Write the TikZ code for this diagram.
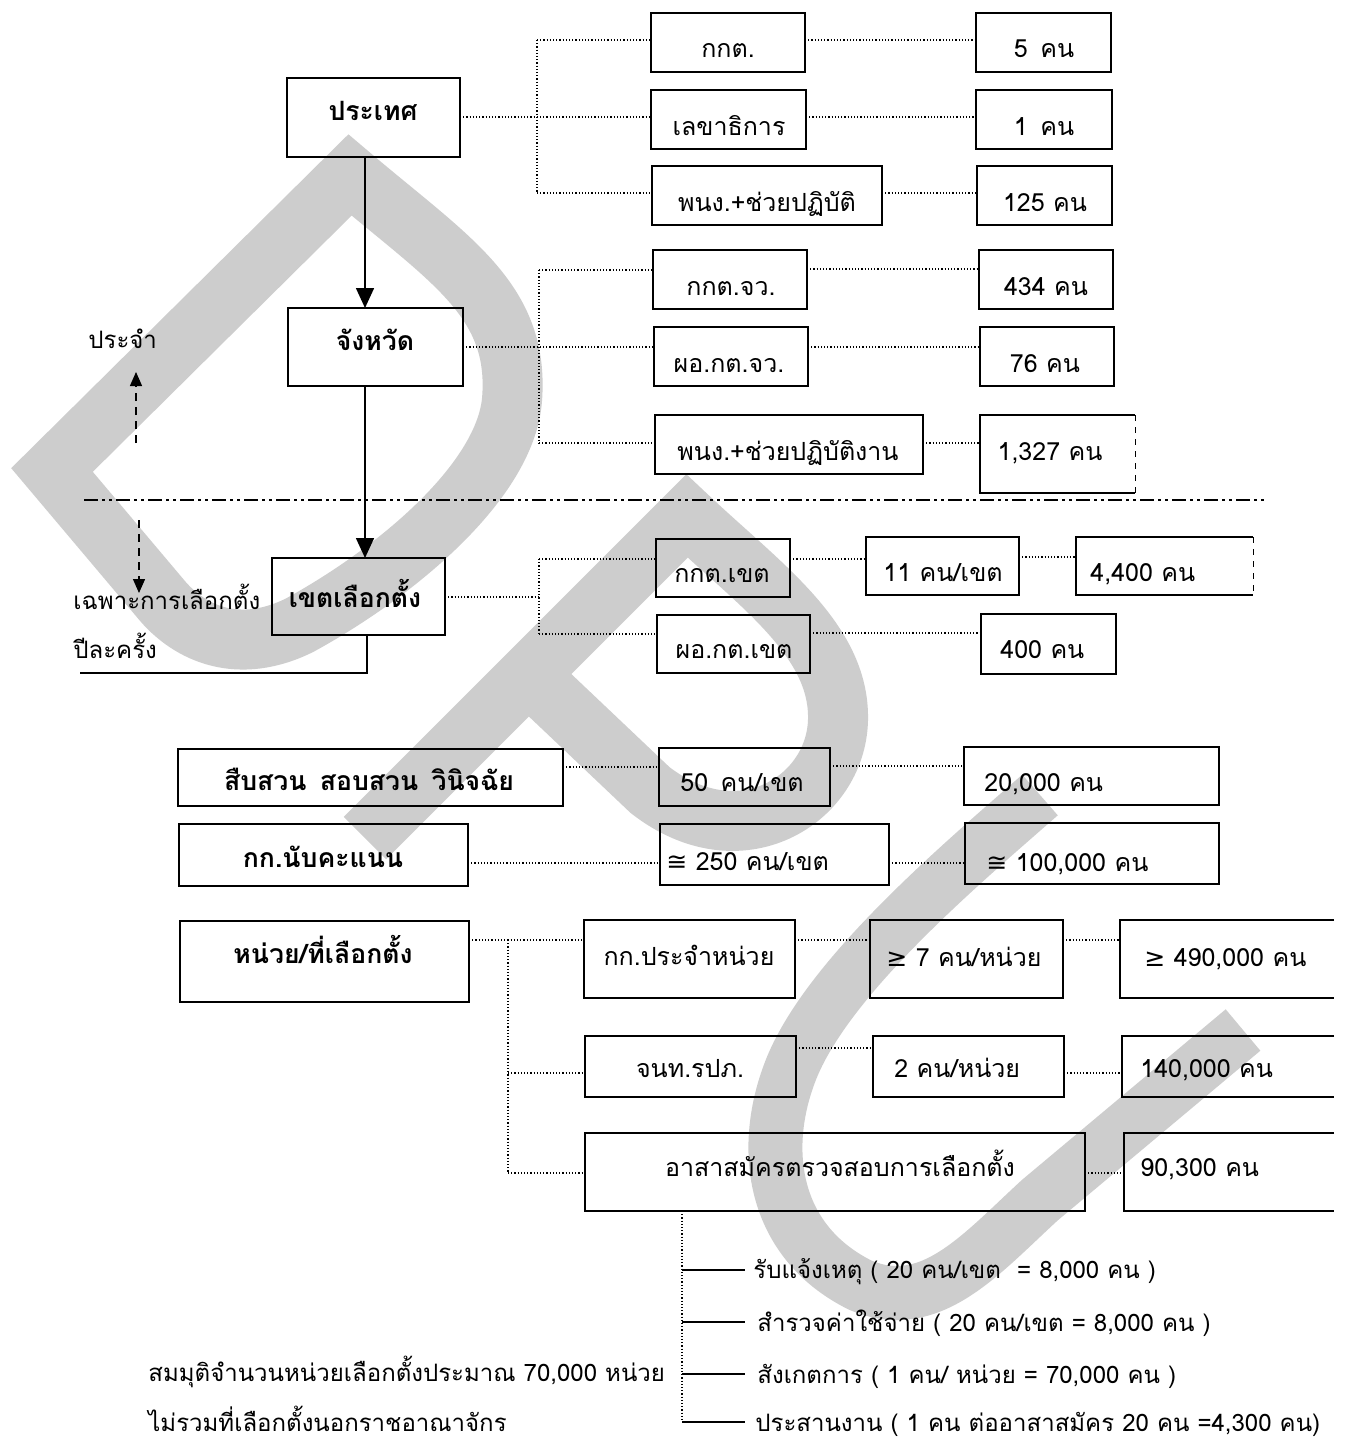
\documentclass[tikz,border=0pt]{standalone}
\usepackage{fontspec}
\setmainfont[Script=Thai]{Loma}
\newfontfamily\symf{DejaVu Sans}
\usetikzlibrary{arrows.meta,calc}
\definecolor{wm}{RGB}{205,205,205}
\tikzset{
  box/.style={draw, line width=1pt, rectangle, inner sep=0pt, outer sep=0pt},
  openbox/.style={rectangle, inner sep=0pt, outer sep=0pt},
  txt/.style={inner sep=0pt, font=\fontsize{12.5}{15}\selectfont},
  ftxt/.style={inner sep=0pt, font=\fontsize{12}{14}\selectfont},
  btxt/.style={inner sep=0pt, font=\fontsize{13.3}{16}\selectfont\bfseries},
  dotl/.style={densely dotted, line width=0.6pt},
  solidl/.style={line width=0.8pt},
  arr/.style={line width=0.8pt, -{Triangle[length=10pt,width=9pt]}},
  darr/.style={line width=0.7pt, dash pattern=on 4pt off 3pt, -{Triangle[length=7pt,width=6pt]}},
  wmark/.style={line width=30pt, draw=wm, line join=miter, miter limit=4},
  dashdot/.style={line width=1pt, dash pattern=on 7pt off 2pt on 1.5pt off 2pt on 1.5pt off 2pt},
  sides/.style={line width=1pt},
}
\newcommand\bx[6][box]{\node[#1, minimum width={(#4-#2)*0.5pt}, minimum height={(#5-#3)*0.5pt}] (#6) at ({(#2+#4)/2},{(#3+#5)/2}) {};}
\newcommand\tx[5][txt]{\node[#1, anchor=base] (#2) at (#3,#4) {#5};}
\newcommand\tw[5][txt]{\node[#1, anchor=base west] (#2) at (#3,#4) {#5};}
\newcommand\threesides[1]{\draw[sides] (#1.north east) -- (#1.north west) -- (#1.south west) -- (#1.south east);}
\begin{document}
\begin{tikzpicture}[x=0.5pt,y=-0.5pt]
\fill[white] (0,0) rectangle (1346,1439);
\useasboundingbox (0,0) rectangle (1346,1439);

% ---------- watermark ----------
\draw[wmark] (52,470) -- (350,175) .. controls (450,260) and (520,300) .. (512,400)
  .. controls (505,480) and (400,570) .. (300,625) .. controls (240,655) and (190,635) .. (160,598) -- cycle;
\draw[wmark] (365,838) -- (687,516) .. controls (760,585) and (840,640) .. (838,720)
  .. controls (836,800) and (740,860) .. (650,790) -- (515,662);
\draw[wmark, line width=27pt] (1040,795) .. controls (960,865) and (830,975) .. (792,1067)
  .. controls (760,1145) and (770,1240) .. (860,1285) .. controls (930,1315) and (980,1255) .. (1040,1200) -- (1243,1030);

% ---------- left column ----------
\bx{287}{78}{460}{157}{prathet}
\bx{288}{308}{463}{386}{changwat}
\bx{272}{558}{445}{635}{khet}
\tx[btxt]{tprathet}{373}{121}{ประเทศ}
\tx[btxt]{tchangwat}{375}{350}{จังหวัด}
\tx[btxt]{tkhet}{355}{607}{เขตเลือกตั้ง}

\draw[arr] (prathet.south -| 365,0) -- (changwat.north -| 365,0);
\draw[arr] (changwat.south -| 365,0) -- (khet.north -| 365,0);
\draw[solidl] (khet.south -| 367,0) -- (367,673) -- (80,673);

\draw[dashdot] (84,500) -- (1265,500);

\tw[ftxt]{tprajam}{88}{348}{ประจำ}
\tw[ftxt]{tchapo}{73}{609}{เฉพาะการเลือกตั้ง}
\tw[ftxt]{tpila}{73}{658}{ปีละครั้ง}
\coordinate (ua) at (136,443);
\coordinate (ub) at (136,372);
\draw[darr] (ua) -- (ub);
\coordinate (da) at (139,520);
\coordinate (db) at (139,593);
\draw[darr] (da) -- (db);

% ---------- group 1 ----------
\bx{651}{13}{805}{72}{kkt}
\bx{651}{90}{806}{149}{lekha}
\bx{652}{166}{882}{225}{pnk1}
\bx{976}{13}{1111}{72}{n5}
\bx{976}{90}{1112}{149}{n1}
\bx{977}{166}{1112}{225}{n125}
\tx{tkkt}{728}{58}{กกต.}
\tx{tlekha}{729}{136}{เลขาธิการ}
\tx{tpnk1}{767}{212}{พนง.+ช่วยปฏิบัติ}
\tx{tn5}{1044}{58}{5\enspace คน}
\tx{tn1}{1044}{136}{1\enspace คน}
\tx{tn125}{1045}{212}{125 คน}
\coordinate (b1t) at (537,40);
\coordinate (b1b) at (537,193);
\draw[dotl] (b1t) -- (b1b);
\draw[dotl] (prathet.east |- 0,117) -- (lekha.west |- 0,117);
\draw[dotl] (b1t) -- (kkt.west |- b1t);
\draw[dotl] (b1b) -- (pnk1.west |- b1b);
\draw[dotl] (kkt.east |- 0,40) -- (n5.west |- 0,40);
\draw[dotl] (lekha.east |- 0,117) -- (n1.west |- 0,117);
\draw[dotl] (pnk1.east |- 0,193) -- (n125.west |- 0,193);

% ---------- group 2 ----------
\bx{653}{250}{807}{309}{kktjw}
\bx{654}{327}{808}{386}{pokt}
\bx{655}{415}{923}{474}{pnk2}
\bx{979}{250}{1113}{309}{n434}
\bx{980}{327}{1114}{386}{n76}
\bx[openbox]{980}{415}{1135}{493}{n1327}
\threesides{n1327}
\draw[line width=0.4pt, dashed] (n1327.north east) -- (n1327.south east);
\tx{tkktjw}{731}{295}{กกต.จว.}
\tx{tpokt}{729}{372}{ผอ.กต.จว.}
\tx{tpnk2}{788}{460}{พนง.+ช่วยปฏิบัติงาน}
\tx{tn434}{1046}{295}{434 คน}
\tx{tn76}{1045}{372}{76 คน}
\tx{tn1327}{1050}{460}{1,327 คน}
\coordinate (b2t) at (539,270);
\coordinate (b2b) at (539,443);
\draw[dotl] (b2t) -- (b2b);
\draw[dotl] (changwat.east |- 0,347) -- (pokt.west |- 0,347);
\draw[dotl] (b2t) -- (kktjw.west |- b2t);
\draw[dotl] (b2b) -- (pnk2.west |- b2b);
\draw[dotl] (kktjw.east |- 0,269) -- (n434.west |- 0,269);
\draw[dotl] (pokt.east |- 0,347) -- (n76.west |- 0,347);
\draw[dotl] (pnk2.east |- 0,443) -- (n1327.west |- 0,443);

% ---------- group 3 ----------
\bx{656}{539}{790}{597}{kktkhet}
\bx{657}{615}{810}{673}{pokhet}
\bx{866}{537}{1019}{595}{n11}
\bx[openbox]{1076}{537}{1253}{595}{n4400}
\threesides{n4400}
\draw[line width=0.4pt, dashed] (n4400.north east) -- (n4400.south east);
\bx{981}{614}{1116}{674}{n400}
\tx{tkktkhet}{722}{582}{กกต.เขต}
\tx{tpokhet}{734}{658}{ผอ.กต.เขต}
\tx{tn11}{943}{581}{11 คน/เขต}
\tw{tn4400}{1090}{581}{4,400 คน}
\tw{tn400}{1000}{658}{400 คน}
\coordinate (b3t) at (539,559);
\coordinate (b3b) at (539,634);
\draw[dotl] (b3t) -- (b3b);
\draw[dotl] (khet.east |- 0,597) -- (b3t |- 0,597);
\draw[dotl] (b3t) -- (kktkhet.west |- b3t);
\draw[dotl] (b3b) -- (pokhet.west |- b3b);
\draw[dotl] (kktkhet.east |- 0,559) -- (n11.west |- 0,559);
\draw[dotl] (n11.east |- 0,557) -- (n4400.west |- 0,557);
\draw[dotl] (pokhet.east |- 0,633) -- (n400.west |- 0,633);

% ---------- group 4 ----------
\bx{178}{749}{563}{806}{suep}
\bx{659}{748}{830}{806}{n50}
\bx{964}{747}{1219}{805}{n20000}
\bx{179}{824}{468}{886}{kknab}
\bx{660}{824}{889}{885}{n250}
\bx{965}{823}{1219}{884}{n100k}
\tx[btxt]{tsuep}{369}{790}{สืบสวน\enspace สอบสวน\enspace วินิจฉัย}
\tw{tn50}{680}{791}{50\enspace คน/เขต}
\tw{tn20000}{984}{791}{20,000 คน}
\tx[btxt]{tkknab}{323}{867}{กก.นับคะแนน}
\tw{tn250}{666}{870}{{\symf ≅} 250 คน/เขต}
\tw{tn100k}{986}{871}{{\symf ≅} 100,000 คน}
\draw[dotl] (suep.east |- 0,767) -- (n50.west |- 0,767);
\draw[dotl] (n50.east |- 0,766) -- (n20000.west |- 0,766);
\draw[dotl] (kknab.east |- 0,863) -- (n250.west |- 0,863);
\draw[dotl] (n250.east |- 0,863) -- (n100k.west |- 0,863);

% ---------- group 5 ----------
\bx{180}{921}{469}{1002}{nuai}
\bx{584}{920}{795}{998}{kkpj}
\bx{870}{920}{1063}{998}{n7}
\bx[openbox]{1120}{920}{1334}{998}{n490}
\threesides{n490}
\bx{585}{1036}{796}{1097}{jnt}
\bx{873}{1036}{1064}{1097}{n2}
\bx[openbox]{1122}{1036}{1334}{1097}{n140}
\threesides{n140}
\bx{585}{1133}{1085}{1211}{asa}
\bx[openbox]{1124}{1133}{1334}{1211}{n90}
\threesides{n90}
\tx[btxt]{tnuai}{323}{963}{หน่วย/ที่เลือกตั้ง}
\tx{tkkpj}{689}{965}{กก.ประจำหน่วย}
\tx{tn7}{964}{966}{{\symf ≥} 7 คน/หน่วย}
\tw{tn490}{1144}{966}{{\symf ≥} 490,000 คน}
\tx{tjnt}{690}{1077}{จนท.รปภ.}
\tw{tn2}{894}{1077}{2 คน/หน่วย}
\tw{tn140}{1140}{1077}{140,000 คน}
\tx{tasa}{840}{1176}{อาสาสมัครตรวจสอบการเลือกตั้ง}
\tw{tn90}{1140}{1176}{90,300 คน}
\coordinate (b5t) at (508,940);
\coordinate (b5b) at (508,1173);
\draw[dotl] (nuai.east |- 0,940) -- (kkpj.west |- 0,940);
\draw[dotl] (b5t) -- (b5b);
\draw[dotl] (b5t |- 0,1073) -- (jnt.west |- 0,1073);
\draw[dotl] (b5b) -- (asa.west |- b5b);
\draw[dotl] (kkpj.east |- 0,940) -- (n7.west |- 0,940);
\draw[dotl] (n7.east |- 0,940) -- (n490.west |- 0,940);
\draw[dotl] (jnt.east |- 0,1048) -- (n2.west |- 0,1048);
\draw[dotl] (n2.east |- 0,1073) -- (n140.west |- 0,1073);
\draw[dotl] (asa.east |- 0,1173) -- (n90.west |- 0,1173);

% ---------- bottom list ----------
\tw[ftxt]{tb1}{753}{1278}{รับแจ้งเหตุ ( 20 คน/เขต \ = 8,000 คน )}
\tw[ftxt]{tb2}{757}{1331}{สำรวจค่าใช้จ่าย ( 20 คน/เขต = 8,000 คน )}
\tw[ftxt]{tb3}{757}{1383}{สังเกตการ ( 1 คน/ หน่วย = 70,000 คน )}
\tw[ftxt]{tb4}{755}{1431}{ประสานงาน ( 1 คน ต่ออาสาสมัคร 20 คน =4,300 คน)}
\coordinate (vb) at (682,1422);
\draw[dotl] (asa.south -| vb) -- (vb);
\coordinate (e1) at (745,1270);
\coordinate (e2) at (745,1322);
\coordinate (e3) at (745,1374);
\coordinate (e4) at (745,1422);
\draw[solidl] (vb |- e1) -- (e1);
\draw[solidl] (vb |- e2) -- (e2);
\draw[solidl] (vb |- e3) -- (e3);
\draw[solidl] (vb) -- (e4);
\tw[ftxt]{tnote1}{148}{1381}{สมมุติจำนวนหน่วยเลือกตั้งประมาณ 70,000 หน่วย}
\tw[ftxt]{tnote2}{148}{1431}{ไม่รวมที่เลือกตั้งนอกราชอาณาจักร}
\end{tikzpicture}
\end{document}
